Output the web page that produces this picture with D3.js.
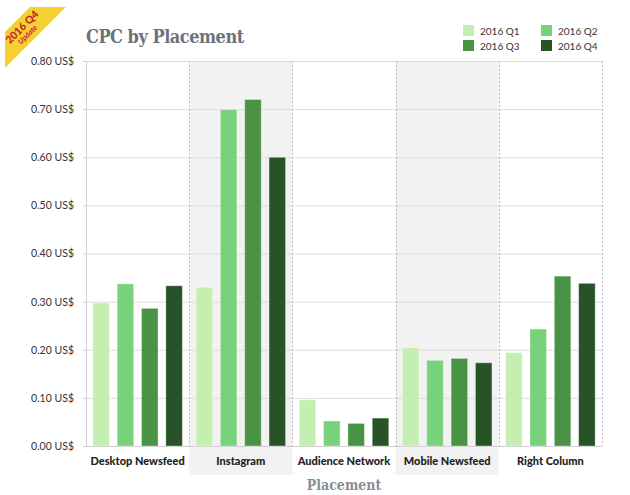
<!DOCTYPE html>
<html>
<head>
<meta charset="utf-8">
<script src="https://cdn.jsdelivr.net/npm/d3@7"></script>
<style>
  html, body { margin: 0; padding: 0; background: #fff; }
  svg { display: block; }
</style>
</head>
<body>
<svg id="chart" width="630" height="495"></svg>
<script>
// ---- Data ----
const placements = ["Desktop Newsfeed", "Instagram", "Audience Network", "Mobile Newsfeed", "Right Column"];
const quarters = ["2016 Q1", "2016 Q2", "2016 Q3", "2016 Q4"];
const q1 = [0.298, 0.331, 0.097, 0.205, 0.195];
const q2 = [0.338, 0.700, 0.053, 0.179, 0.244];
const q3 = [0.287, 0.721, 0.048, 0.183, 0.354];
const q4 = [0.334, 0.601, 0.059, 0.174, 0.339];
const seriesValues = [q1, q2, q3, q4];
const yTicks = [0, 0.1, 0.2, 0.3, 0.4, 0.5, 0.6, 0.7, 0.8];
const colors = ["#c5eeb1", "#78d27a", "#4a9344", "#275327"];

// ---- Layout ----
const mLeft = 86, mRight = 602, mTop = 61, mBottom = 446;
const svg = d3.select("#chart");

const x0 = d3.scaleBand().domain(placements).range([mLeft, mRight]).padding(0);
const x1 = d3.scaleBand().domain(quarters).range([0, x0.bandwidth()])
  .paddingInner(0.28).paddingOuter(0.26);
const y = d3.scaleLinear().domain([0, 0.8]).range([mBottom, mTop]);
const color = d3.scaleOrdinal().domain(quarters).range(colors);

// alternating band backgrounds
svg.append("g").selectAll("rect")
  .data(placements.filter((d, i) => i % 2 === 1))
  .join("rect")
  .attr("x", d => x0(d))
  .attr("y", mTop)
  .attr("width", x0.bandwidth())
  .attr("height", 475 - mTop)
  .attr("fill", "#f2f2f2");

// gridlines
const grid = svg.append("g")
  .attr("transform", `translate(${mLeft},0)`)
  .call(d3.axisLeft(y).tickValues(yTicks).tickSize(-(mRight - mLeft)).tickFormat(""));
grid.select(".domain").remove();
grid.selectAll("line").attr("stroke", "#dcdcdc").attr("stroke-width", 1);

// dotted dividers
const dividers = placements.slice(1).map(d => x0(d)).concat([mRight]);
svg.append("g").selectAll("line")
  .data(dividers)
  .join("line")
  .attr("x1", d => Math.round(d) + 0.5)
  .attr("x2", d => Math.round(d) + 0.5)
  .attr("y1", mTop)
  .attr("y2", mBottom)
  .attr("stroke", "#bdbdbd")
  .attr("stroke-width", 1)
  .attr("stroke-dasharray", "2,2");

// y axis
const yAxis = svg.append("g")
  .attr("transform", `translate(${mLeft},0)`)
  .call(d3.axisLeft(y).tickValues(yTicks).tickSize(3).tickPadding(9)
    .tickFormat(d => d3.format(".2f")(d) + " US$"));
yAxis.select(".domain").attr("stroke", "#cfcfcf");
yAxis.selectAll(".tick line").attr("stroke", "#cfcfcf");
yAxis.selectAll(".tick text")
  .attr("fill", "#333")
  .style("font-family", "Lato, 'Open Sans', sans-serif")
  .style("font-size", "10.5px");

// baseline
svg.append("line")
  .attr("x1", mLeft).attr("x2", mRight)
  .attr("y1", y(0) + 0.5).attr("y2", y(0) + 0.5)
  .attr("stroke", "#cfcfcf");

// bars
const groups = svg.append("g").selectAll("g")
  .data(placements)
  .join("g")
  .attr("transform", d => `translate(${x0(d)},0)`);
groups.selectAll("rect")
  .data((d, i) => quarters.map((q, k) => ({ q, v: seriesValues[k][i] })))
  .join("rect")
  .attr("x", d => x1(d.q) + 0.5)
  .attr("y", d => y(d.v) + 0.5)
  .attr("width", x1.bandwidth() - 1)
  .attr("height", d => y(0) - y(d.v) - 0.5)
  .attr("fill", d => color(d.q))
  .attr("stroke", "rgba(255,255,255,0.35)")
  .attr("stroke-width", 1);

// x category labels
svg.append("g").selectAll("text")
  .data(placements)
  .join("text")
  .attr("x", d => x0(d) + x0.bandwidth() / 2)
  .attr("y", 465)
  .attr("text-anchor", "middle")
  .attr("fill", "#222")
  .style("font-family", "Lato, sans-serif")
  .style("font-weight", "900")
  .style("font-size", "11px")
  .text(d => d);

// axis title
svg.append("text")
  .attr("x", (mLeft + mRight) / 2)
  .attr("y", 490)
  .attr("text-anchor", "middle")
  .attr("fill", "#8a8d94")
  .style("font-family", "'DejaVu Serif Condensed', 'DejaVu Serif', serif")
  .style("font-weight", "bold")
  .style("font-size", "14px")
  .text("Placement");

// title
svg.append("text")
  .attr("x", 86)
  .attr("y", 43)
  .attr("fill", "#6d717c")
  .style("font-family", "'DejaVu Serif Condensed', 'DejaVu Serif', serif")
  .style("font-weight", "bold")
  .style("font-size", "18px")
  .style("letter-spacing", "-0.5px")
  .text("CPC by Placement");

// legend
const legendPos = [[463, 25], [541, 25], [463, 40], [541, 40]];
const legend = svg.append("g").selectAll("g")
  .data(quarters)
  .join("g")
  .attr("transform", (d, i) => `translate(${legendPos[i][0]},${legendPos[i][1]})`);
legend.append("rect")
  .attr("width", 11).attr("height", 11)
  .attr("fill", d => color(d));
legend.append("text")
  .attr("x", 17).attr("y", 9.5)
  .attr("fill", "#333")
  .style("font-family", "Lato, sans-serif")
  .style("font-size", "10px")
  .text(d => d);

// corner ribbon
svg.append("polygon")
  .attr("points", "5,32 30,7 66,7 5,68")
  .attr("fill", "#f5d033");
svg.append("text")
  .attr("transform", "translate(22,27) rotate(-45)")
  .attr("text-anchor", "middle")
  .attr("dy", "0.35em")
  .attr("fill", "#c4262b")
  .style("font-family", "Lato, sans-serif")
  .style("font-weight", "900")
  .style("font-size", "10.5px")
  .text("2016 Q4");
svg.append("text")
  .attr("transform", "translate(27.5,34.5) rotate(-45)")
  .attr("text-anchor", "middle")
  .attr("dy", "0.35em")
  .attr("fill", "#c4262b")
  .style("font-family", "Lato, sans-serif")
  .style("font-weight", "bold")
  .style("font-style", "italic")
  .style("font-size", "7.5px")
  .text("Update");
</script>
</body>
</html>
